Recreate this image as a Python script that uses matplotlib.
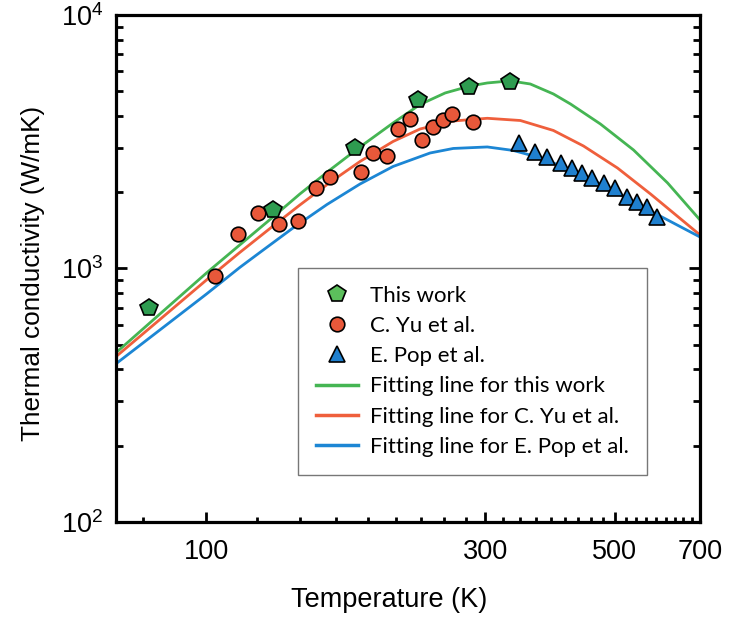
import numpy as np
import matplotlib
matplotlib.use("Agg")
import matplotlib.pyplot as plt
from matplotlib.lines import Line2D
from matplotlib.ticker import FixedLocator, FixedFormatter, NullFormatter, LogLocator

plt.rcParams['font.family'] = ['Liberation Sans', 'DejaVu Sans']
plt.rcParams['mathtext.fontset'] = 'custom'
plt.rcParams['mathtext.rm'] = 'Liberation Sans'

# measured points
this_work_T = [79.7, 129.8, 179.7, 230.7, 281.0, 331.0]
this_work_k = [697, 1702, 2996, 4620, 5215, 5454]

yu_T = [103.3, 113.3, 122.6, 133.0, 143.6, 154.0, 162.7, 183.7, 193.1, 204.1,
        213.2, 223.3, 233.8, 244.7, 254.0, 263.8, 286.0]
yu_k = [934, 1364, 1651, 1498, 1539, 2083, 2301, 2410, 2848, 2779,
        3540, 3878, 3213, 3625, 3854, 4070, 3794]

pop_T = [343.4, 365.7, 383.1, 404.8, 422.7, 439.8, 457.5, 478.9, 501.5, 525.3,
         546.6, 568.5, 591.4]
pop_k = [3118, 2888, 2761, 2600, 2485, 2374, 2270, 2168, 2072, 1919,
         1834, 1753, 1600]

# fitting lines
fit_work_T = [69.9, 83.2, 100, 114.0, 129.4, 144.5, 162.7, 183.2, 208.7, 232.2,
              256.3, 282.9, 302.6, 322.4, 340.6, 358.5, 392.7, 420.1, 472.7, 538.5,
              616.0, 700]
fit_work_k = [464, 661, 960, 1238, 1582, 1967, 2447, 3016, 3750, 4436,
              4925, 5248, 5393, 5466, 5441, 5343, 4880, 4455, 3715, 2935,
              2175, 1554]

fit_yu_T = [69.9, 83.2, 100, 114.0, 129.4, 144.5, 162.7, 183.2, 208.7, 232.2,
            264.6, 302.6, 344.7, 392.7, 442.1, 505.6, 576.0, 700]
fit_yu_k = [448, 629, 901, 1156, 1458, 1780, 2185, 2643, 3170, 3551,
            3818, 3913, 3835, 3503, 3043, 2491, 1967, 1356]

fit_pop_T = [69.9, 83.2, 100, 114.0, 123.4, 140.6, 160.8, 183.2, 208.7, 241.5,
             264.6, 302.6, 335.3, 368.6, 420.1, 472.7, 538.5, 616.0, 700]
fit_pop_k = [420, 572, 793, 1009, 1156, 1444, 1788, 2154, 2526, 2855,
             2975, 3016, 2921, 2753, 2458, 2154, 1829, 1554, 1331]

green_line = '#45b553'
red_line = '#ef5f3c'
blue_line = '#1c86d4'
green_mk = '#2e9c50'
red_mk = '#e8583a'
blue_mk = '#1f80cf'

fig = plt.figure(figsize=(7.31, 6.19), dpi=100)
ax = fig.add_axes([0.1587, 0.1567, 0.7989, 0.8191])

ax.plot(fit_work_T, fit_work_k, color=green_line, lw=2.0, zorder=2)
ax.plot(fit_yu_T, fit_yu_k, color=red_line, lw=2.0, zorder=2)
ax.plot(fit_pop_T, fit_pop_k, color=blue_line, lw=2.0, zorder=2)

ax.plot(yu_T, yu_k, 'o', ms=10.5, mfc=red_mk, mec='black', mew=1.2, zorder=3)
ax.plot(pop_T, pop_k, '^', ms=12, mfc=blue_mk, mec='black', mew=1.2, zorder=3)
ax.plot(this_work_T, this_work_k, 'p', ms=13, mfc=green_mk, mec='black', mew=1.2, zorder=4)

ax.set_xscale('log')
ax.set_yscale('log')
ax.set_xlim(70, 700)
ax.set_ylim(100, 10000)

ax.xaxis.set_major_locator(FixedLocator([100, 300, 500, 700]))
ax.xaxis.set_major_formatter(FixedFormatter(['100', '300', '500', '700']))
minors = [100 + 200 / 9 * k for k in range(-1, 28)]
ax.xaxis.set_minor_locator(FixedLocator(minors))
ax.xaxis.set_minor_formatter(NullFormatter())
ax.yaxis.set_major_locator(LogLocator(base=10))
ax.yaxis.set_minor_locator(LogLocator(base=10, subs=np.arange(2, 10)))
ax.yaxis.set_minor_formatter(NullFormatter())

ax.tick_params(axis='x', which='both', direction='in', top=False, bottom=True,
               labelsize=19.5, pad=12, width=2)
ax.tick_params(axis='y', which='both', direction='in', left=True, right=True,
               labelsize=19.5, pad=9, width=2)
ax.tick_params(axis='x', which='major', length=7)
ax.tick_params(axis='x', which='minor', length=3.5)
ax.tick_params(axis='y', which='major', length=8)
ax.tick_params(axis='y', which='minor', length=5)
for s in ax.spines.values():
    s.set_linewidth(2.3)

ax.set_xlabel('Temperature (K)', fontsize=19.5)
ax.xaxis.set_label_coords(0.4675, -0.128)
ax.set_ylabel('Thermal conductivity (W/mK)', fontsize=18.8)
ax.yaxis.set_label_coords(-0.122, 0.49)

handles = [
    Line2D([], [], ls='none', marker='p', ms=13, mfc='#5cbf5c', mec='black', mew=1.2),
    Line2D([], [], ls='none', marker='o', ms=10.5, mfc=red_mk, mec='black', mew=1.2),
    Line2D([], [], ls='none', marker='^', ms=12, mfc=blue_mk, mec='black', mew=1.2),
    Line2D([], [], color=green_line, lw=2.5),
    Line2D([], [], color=red_line, lw=2.5),
    Line2D([], [], color=blue_line, lw=2.5),
]
labels = ['This work', 'C. Yu et al.', 'E. Pop et al.',
          'Fitting line for this work', 'Fitting line for C. Yu et al.',
          'Fitting line for E. Pop et al.']
leg = ax.legend(handles, labels, loc='upper left', bbox_to_anchor=(0.3116, 0.501),
                prop={'family': ['Lato', 'DejaVu Sans'], 'size': 16},
                frameon=True, fancybox=False, shadow=False, framealpha=1,
                edgecolor='#777777', borderpad=0.8, labelspacing=0.46,
                handlelength=1.9, handletextpad=0.55, borderaxespad=0)
leg.get_frame().set_linewidth(1.0)

fig.savefig('out.png', dpi=100)
